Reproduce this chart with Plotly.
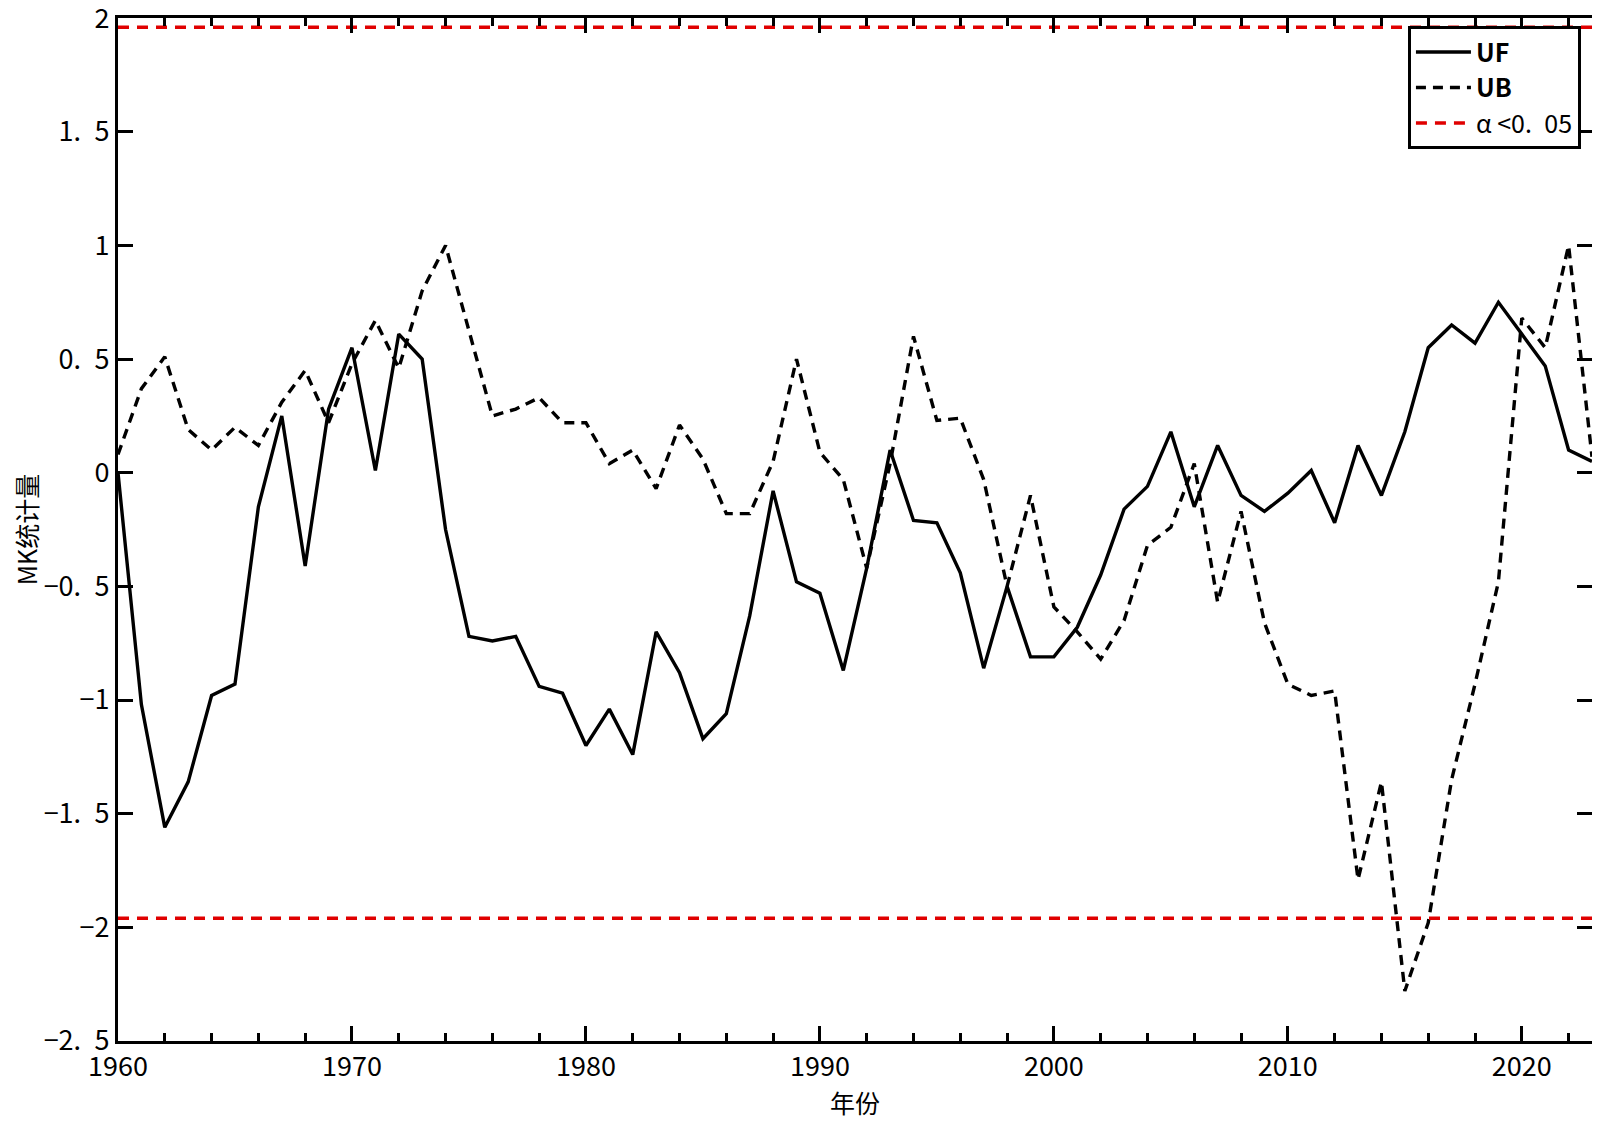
import plotly.graph_objects as go

years = list(range(1960, 2024))

uf = [0.00, -1.02, -1.56, -1.36, -0.98, -0.93, -0.15, 0.25, -0.41, 0.28,
      0.55, 0.01, 0.61, 0.50, -0.25, -0.72, -0.74, -0.72, -0.94, -0.97,
      -1.20, -1.04, -1.24, -0.70, -0.88, -1.17, -1.06, -0.63, -0.08, -0.48,
      -0.53, -0.87, -0.42, 0.10, -0.21, -0.22, -0.44, -0.86, -0.50, -0.81,
      -0.81, -0.68, -0.45, -0.16, -0.06, 0.18, -0.15, 0.12, -0.10, -0.17,
      -0.09, 0.01, -0.22, 0.12, -0.10, 0.18, 0.55, 0.65, 0.57, 0.75,
      0.61, 0.47, 0.10, 0.05]

ub = [0.08, 0.37, 0.51, 0.19, 0.10, 0.20, 0.12, 0.31, 0.45, 0.22,
      0.48, 0.67, 0.46, 0.80, 1.00, 0.62, 0.25, 0.28, 0.33, 0.22,
      0.22, 0.04, 0.10, -0.07, 0.21, 0.06, -0.18, -0.18, 0.05, 0.50,
      0.09, -0.03, -0.42, 0.04, 0.60, 0.23, 0.24, -0.03, -0.50, -0.10,
      -0.59, -0.70, -0.82, -0.65, -0.32, -0.24, 0.04, -0.57, -0.17, -0.66,
      -0.93, -0.98, -0.96, -1.79, -1.36, -2.28, -1.98, -1.35, -0.93, -0.48,
      0.68, 0.55, 1.00, 0.07]

crit = 1.96
y_ticks = [-2.5, -2, -1.5, -1, -0.5, 0, 0.5, 1, 1.5, 2]
y_ticktext = ["−2.\u20025", "−2", "−1.\u20025", "−1", "−0.\u20025", "0",
              "0.\u20025", "1", "1.\u20025", "2"]
x_ticks = [1960, 1970, 1980, 1990, 2000, 2010, 2020]

FONT = "Noto Sans CJK SC"
LW = 3.4

fig = go.Figure()
fig.add_trace(go.Scatter(x=years, y=uf, mode="lines", name="<b>UF</b>",
                         line=dict(color="black", width=LW)))
fig.add_trace(go.Scatter(x=years, y=ub, mode="lines", name="<b>UB</b>",
                         line=dict(color="black", width=LW, dash="10px,7px")))
fig.add_trace(go.Scatter(x=[years[0], years[-1]], y=[crit, crit], mode="lines",
                         name="α <0.\u200205",
                         line=dict(color="#e00000", width=LW, dash="11px,8px")))
fig.add_trace(go.Scatter(x=[years[0], years[-1]], y=[-crit, -crit], mode="lines",
                         showlegend=False,
                         line=dict(color="#e00000", width=LW, dash="11px,8px")))

axis_common = dict(showline=True, linecolor="black", linewidth=3, mirror="ticks",
                   ticks="inside", tickcolor="black", tickwidth=2.5, showgrid=False,
                   zeroline=False, ticklabeloverflow="allow",
                   tickfont=dict(family=FONT, size=27, color="black"))

fig.update_xaxes(range=[1960, 2023], tickvals=x_ticks, ticklen=15,
                 automargin=False,
                 minor=dict(dtick=2, tick0=1960, ticks="inside", ticklen=8,
                            tickwidth=2.5, tickcolor="black"),
                 title=dict(text="年份", font=dict(family=FONT, size=25, color="black"),
                            standoff=2),
                 **axis_common)
fig.update_yaxes(range=[-2.5, 2.0005], tickvals=y_ticks, ticktext=y_ticktext, ticklen=15,
                 automargin=False,
                 title=dict(text="MK统计量", font=dict(family=FONT, size=25, color="black"),
                            standoff=0),
                 **axis_common)

fig.update_layout(
    width=1592, height=1117,
    margin=dict(l=110, r=8, t=10, b=84, autoexpand=False),
    plot_bgcolor="white", paper_bgcolor="white",
    font=dict(family=FONT, size=25, color="black"),
    legend=dict(x=0.9925, y=0.992, xanchor="right", yanchor="top",
                bgcolor="white", bordercolor="black", borderwidth=3,
                font=dict(family=FONT, size=25, color="black"),
                itemwidth=55, tracegroupgap=0),
    showlegend=True,
)

fig.write_html("out.html", config={"displayModeBar": False})
